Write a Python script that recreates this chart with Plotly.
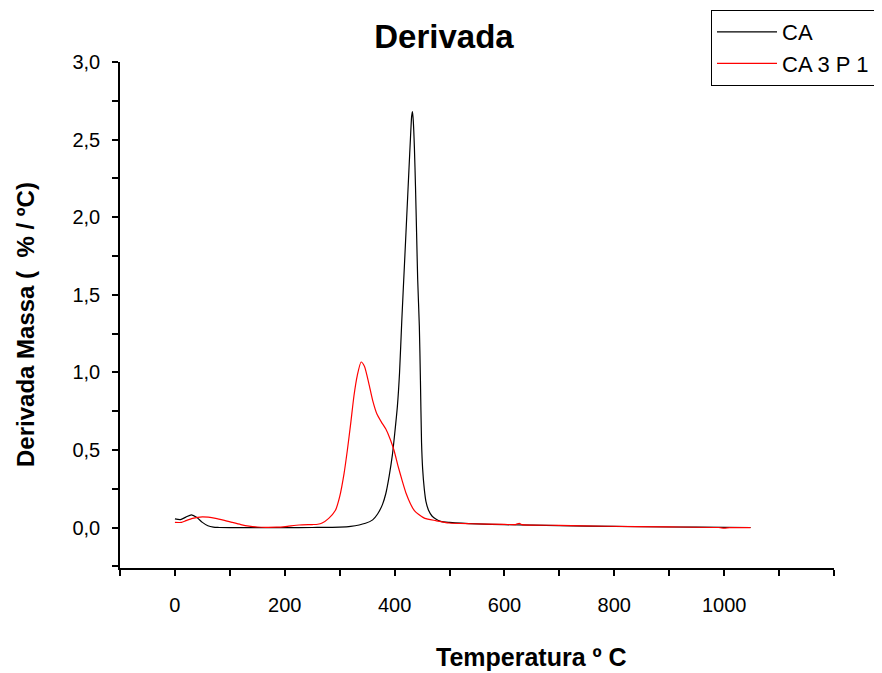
import plotly.graph_objects as go

# CA (black)
ca_T = [0, 10, 20, 30, 40, 50, 60, 70, 80, 100, 150, 200, 250, 300, 320, 347, 360, 369, 378, 384,
        390, 396, 400, 405, 409, 413, 418, 422, 426, 429, 431, 432.5, 434, 436, 438, 440, 442, 445,
        447, 449, 451, 454, 457, 462, 468, 475, 484, 500, 550, 600, 700, 800, 900, 1000, 1048]
ca_v = [0.056, 0.052, 0.068, 0.082, 0.065, 0.034, 0.012, 0.003, 0.001, 0.0, 0.0, 0.0, 0.001, 0.003,
        0.008, 0.028, 0.05, 0.088, 0.15, 0.22, 0.33, 0.47, 0.6, 0.78, 1.0, 1.33, 1.7, 2.0, 2.3, 2.52,
        2.65, 2.68, 2.62, 2.45, 2.2, 1.9, 1.6, 1.3, 0.95, 0.55, 0.38, 0.25, 0.17, 0.11, 0.075, 0.055,
        0.04, 0.034, 0.024, 0.019, 0.013, 0.008, 0.004, 0.002, 0.001]

# CA 3 P 1 (red)
p1_T = [0, 12, 20, 32, 50, 74, 90, 104, 120, 135, 150, 165, 185, 201, 226, 250, 260, 268, 280, 292,
        300, 308, 314, 320, 326, 332, 339, 345, 353, 360, 368, 376, 384, 392, 399, 406, 414, 421, 429,
        436, 444, 455, 475, 499, 540, 600, 620, 627, 632, 700, 784, 900, 990, 1000, 1010, 1048]
p1_v = [0.034, 0.034, 0.045, 0.06, 0.069, 0.06, 0.047, 0.034, 0.02, 0.01, 0.004, 0.002, 0.003, 0.007,
        0.017, 0.02, 0.022, 0.03, 0.06, 0.11, 0.2, 0.35, 0.5, 0.67, 0.85, 0.98, 1.067, 1.04, 0.93, 0.82,
        0.73, 0.68, 0.635, 0.57, 0.497, 0.4, 0.3, 0.22, 0.153, 0.11, 0.085, 0.06, 0.045, 0.03, 0.025,
        0.021, 0.02, 0.028, 0.019, 0.015, 0.009, 0.005, 0.001, -0.003, 0.0, 0.0]

x_ticks = [0, 200, 400, 600, 800, 1000]
x_minor = [-100, 100, 300, 500, 700, 900, 1100, 1200]
y_ticks = [0.0, 0.5, 1.0, 1.5, 2.0, 2.5, 3.0]
y_minor = [-0.25, 0.25, 0.75, 1.25, 1.75, 2.25, 2.75]

FONT = "Liberation Sans, Arial, sans-serif"

fig = go.Figure()
fig.add_trace(go.Scatter(x=ca_T, y=ca_v, mode="lines", name="CA",
                         line=dict(color="black", width=1.2, shape="spline", smoothing=0.6)))
fig.add_trace(go.Scatter(x=p1_T, y=p1_v, mode="lines", name="CA 3 P 1",
                         line=dict(color="red", width=1.2, shape="spline", smoothing=0.6)))

axis_common = dict(showline=True, linecolor="black", linewidth=1.5, ticks="outside",
                   ticklen=6, tickwidth=1.5, tickcolor="black", showgrid=False, zeroline=False,
                   automargin=False,
                   tickfont=dict(family=FONT, size=20, color="black"))

fig.update_layout(
    width=882, height=673,
    margin=dict(l=112, r=56, t=54, b=113, autoexpand=False),
    paper_bgcolor="white", plot_bgcolor="white",
    separators=",.",
    title=dict(text="<b>Derivada</b>", x=(444 - 8) / 882, xanchor="center", y=1 - 28 / 673,
               yanchor="middle", yref="container",
               font=dict(family=FONT, size=33, color="black")),
    xaxis=dict(range=[-100, 1200], tickmode="array", tickvals=x_ticks, ticklabelstandoff=12,
               minor=dict(tickmode="array", tickvals=x_minor, ticks="outside", ticklen=6,
                          tickwidth=1.5, tickcolor="black"),
               **axis_common),
    yaxis=dict(range=[-0.26, 3.0], tickmode="array", tickvals=y_ticks, tickformat=".1f",
               ticklabelstandoff=8,
               minor=dict(tickmode="array", tickvals=y_minor, ticks="outside", ticklen=6,
                          tickwidth=1.5, tickcolor="black"),
               **axis_common),
    legend=dict(xref="container", yref="container",
                x=(711 - 8) / 882, y=1 - (10 - 8) / 673, xanchor="left", yanchor="top",
                bordercolor="black", borderwidth=1, bgcolor="white",
                font=dict(family=FONT, size=22, color="black"), itemwidth=60, tracegroupgap=0),
    showlegend=True,
)

fig.add_annotation(text="<b>Temperatura º C</b>", x=(531 - 120) / 714, y=(568 - 657) / 506,
                   xref="paper", yref="paper", showarrow=False, xanchor="center", yanchor="middle",
                   font=dict(family=FONT, size=25, color="black"))
fig.add_annotation(text="<b>Derivada Massa (  % / ºC)</b>", x=(25 - 120) / 714, y=(568 - 325) / 506,
                   xref="paper", yref="paper", showarrow=False, xanchor="center", yanchor="middle",
                   textangle=-90, font=dict(family=FONT, size=24, color="black"))

fig.write_html("out.html")
